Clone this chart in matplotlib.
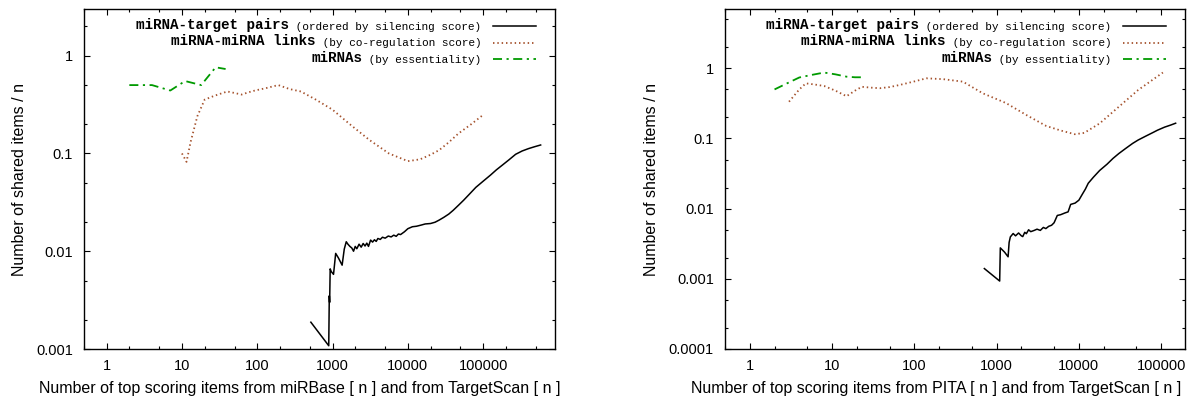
import matplotlib
matplotlib.use("Agg")
import matplotlib.pyplot as plt
from matplotlib.ticker import LogLocator, NullFormatter, FixedFormatter, FixedLocator

plt.rcParams["font.family"] = ["Liberation Sans", "DejaVu Sans"]

# ---- left panel: miRBase vs TargetScan ----
pairs_x_l = [515, 890, 905, 915, 930, 960, 1030, 1100, 1200, 1340, 1430, 1520, 1600, 1700,
             1800, 1900, 2000, 2100, 2250, 2400, 2550, 2700, 2850, 3000, 3200, 3400, 3600,
             3800, 4000, 4300, 4600, 5000, 5500, 6000, 6500, 7000, 7500, 8000, 9000, 10000,
             11500, 13000, 15000, 17000, 20000, 23000, 26000, 30000, 35000, 40000, 47000,
             55000, 65000, 80000, 100000, 125000, 150000, 180000, 220000, 270000, 330000,
             400000, 480000, 580000]
pairs_y_l = [0.00188, 0.00108, 0.0035, 0.0030, 0.0066, 0.0062, 0.0058, 0.0095, 0.0085, 0.0072,
             0.0105, 0.0125, 0.0118, 0.0112, 0.0108, 0.0100, 0.0112, 0.0106, 0.0118, 0.0110,
             0.0120, 0.0113, 0.0121, 0.0112, 0.0130, 0.0124, 0.0131, 0.0126, 0.0135, 0.0132,
             0.0139, 0.0136, 0.0143, 0.0140, 0.0146, 0.0142, 0.0150, 0.0148, 0.0158, 0.0170,
             0.0178, 0.0180, 0.0185, 0.0190, 0.0192, 0.0198, 0.0208, 0.0222, 0.0240, 0.0262,
             0.0295, 0.0332, 0.038, 0.045, 0.052, 0.060, 0.068, 0.076, 0.086, 0.098, 0.106,
             0.112, 0.117, 0.122]

links_x_l = [10, 11.5, 13, 16, 20, 25, 30, 40, 50, 62, 75, 93, 130, 190, 270, 380, 600, 1000,
             1750, 3100, 5600, 10000, 14500, 20000, 26000, 35000, 47000, 70000, 100000]
links_y_l = [0.1, 0.082, 0.13, 0.24, 0.355, 0.38, 0.40, 0.43, 0.415, 0.40, 0.42, 0.44, 0.465,
             0.50, 0.455, 0.43, 0.355, 0.28, 0.195, 0.137, 0.10, 0.0834, 0.087, 0.097, 0.108,
             0.13, 0.16, 0.20, 0.248]

mirnas_x_l = [2, 4, 7, 11, 18, 28, 38]
mirnas_y_l = [0.50, 0.50, 0.44, 0.55, 0.50, 0.76, 0.73]

# ---- right panel: PITA vs TargetScan ----
pairs_x_r = [710, 1090, 1110, 1250, 1380, 1420, 1470, 1590, 1700, 1850, 2000, 2080, 2200,
             2300, 2450, 2600, 2870, 3100, 3400, 3700, 3970, 4300, 4660, 5000, 5470, 6000,
             6800, 7400, 7950, 9000, 10000, 11000, 12000, 13000, 15000, 17900, 22000, 26000,
             30600, 37000, 45000, 52500, 65000, 80000, 90000, 110000, 130000, 150000]
pairs_y_r = [0.0014, 0.00093, 0.00276, 0.0024, 0.00206, 0.0033, 0.00396, 0.00442, 0.0041,
             0.0045, 0.0041, 0.0040, 0.0046, 0.0044, 0.0050, 0.0047, 0.0049, 0.0051, 0.0049,
             0.0054, 0.0052, 0.0056, 0.0058, 0.0063, 0.0080, 0.0082, 0.0087, 0.0090, 0.0115,
             0.0120, 0.0132, 0.016, 0.019, 0.023, 0.028, 0.035, 0.043, 0.052, 0.061, 0.072,
             0.085, 0.095, 0.108, 0.122, 0.131, 0.145, 0.155, 0.165]

links_x_r = [3, 4, 4.8, 6, 8, 11, 15, 19, 23, 30, 38, 50, 66, 100, 140, 225, 390, 680, 1300,
             2300, 4000, 6000, 8900, 11600, 17900, 30600, 52500, 105000]
links_y_r = [0.334, 0.5, 0.61, 0.59, 0.56, 0.48, 0.40, 0.48, 0.545, 0.53, 0.52, 0.54, 0.578,
             0.65, 0.72, 0.70, 0.645, 0.44, 0.32, 0.216, 0.151, 0.13, 0.115, 0.12, 0.164,
             0.283, 0.49, 0.87]

mirnas_x_r = [2, 3, 4, 5.5, 8, 11, 15, 19, 24]
mirnas_y_r = [0.5, 0.63, 0.74, 0.80, 0.87, 0.82, 0.76, 0.745, 0.745]

bold_names = ["miRNA-target pairs", "miRNA-miRNA links", "miRNAs"]
small_names = [" (ordered by silencing score)", " (by co-regulation score)", " (by essentiality)"]

x_ticks = [1, 10, 100, 1000, 10000, 100000]
x_tick_labels = ["1", "10", "100", "1000", "10000", "100000"]

black = "#000000"
brown = "#a5522d"
green = "#009a00"

fig = plt.figure(figsize=(12.03, 4.01), dpi=100)
ax_l = fig.add_axes([84 / 1203, 52 / 401, 471 / 1203, 340 / 401])
ax_r = fig.add_axes([725 / 1203, 52 / 401, 460 / 1203, 340 / 401])


def draw_panel(ax, pairs, links, mirnas, xlim, ylim, yticks, ylabels, xlabel, ylab_x):
    ax.plot(pairs[0], pairs[1], color=black, lw=1.1, label=small_names[0])
    ax.plot(links[0], links[1], color=brown, lw=1.3, linestyle=(0, (0.8, 1.6)),
            label=small_names[1])
    ax.plot(mirnas[0], mirnas[1], color=green, lw=1.3, linestyle=(0, (5, 2.5, 1.2, 2.5)),
            label=small_names[2])
    ax.set_xscale("log")
    ax.set_yscale("log")
    ax.set_xlim(*xlim)
    ax.set_ylim(*ylim)

    ax.xaxis.set_major_locator(FixedLocator(x_ticks))
    ax.xaxis.set_major_formatter(FixedFormatter(x_tick_labels))
    ax.xaxis.set_minor_locator(LogLocator(base=10, subs=(2, 5)))
    ax.xaxis.set_minor_formatter(NullFormatter())
    ax.yaxis.set_major_locator(FixedLocator(yticks))
    ax.yaxis.set_major_formatter(FixedFormatter(ylabels))
    ax.yaxis.set_minor_locator(LogLocator(base=10, subs=(2, 5)))
    ax.yaxis.set_minor_formatter(NullFormatter())

    ax.tick_params(which="both", direction="in", top=True, right=True, width=0.8,
                   labelsize=10.5)
    ax.tick_params(which="major", length=4)
    ax.tick_params(which="minor", length=2.2)
    ax.tick_params(axis="x", pad=7)
    ax.tick_params(axis="y", pad=8)
    for sp in ax.spines.values():
        sp.set_linewidth(1.0)

    ax.set_xlabel(xlabel, fontsize=11.5)
    ax.xaxis.set_label_coords(0.459, -0.094)
    ax.set_ylabel("Number of shared items / n", fontsize=11.5)
    ax.yaxis.set_label_coords(ylab_x, 0.5)

    w = ax.get_position().width * 1203
    leg = ax.legend(loc="upper right", bbox_to_anchor=(1 - 19 / w, 1 - 13 / 340),
                    frameon=False, markerfirst=False, borderpad=0, borderaxespad=0,
                    handlelength=3.9, handletextpad=1.0, labelspacing=0.58,
                    prop={"family": "Liberation Mono", "size": 8})
    for t, name in zip(leg.get_texts(), bold_names):
        ax.annotate(name, xy=(0, 0), xycoords=t, ha="right", va="bottom",
                    fontfamily="Liberation Mono", fontweight="bold", fontsize=10.3,
                    zorder=6)


draw_panel(ax_l, (pairs_x_l, pairs_y_l), (links_x_l, links_y_l), (mirnas_x_l, mirnas_y_l),
           (0.5, 900000), (0.001, 3.0), [0.001, 0.01, 0.1, 1], ["0.001", "0.01", "0.1", "1"],
           "Number of top scoring items from miRBase [ n ] and from TargetScan [ n ]", -0.121)
draw_panel(ax_r, (pairs_x_r, pairs_y_r), (links_x_r, links_y_r), (mirnas_x_r, mirnas_y_r),
           (0.5, 195000), (0.0001, 7.0), [0.0001, 0.001, 0.01, 0.1, 1],
           ["0.0001", "0.001", "0.01", "0.1", "1"],
           "Number of top scoring items from PITA [ n ] and from TargetScan [ n ]", -0.143)

fig.savefig("out.png", dpi=100)
